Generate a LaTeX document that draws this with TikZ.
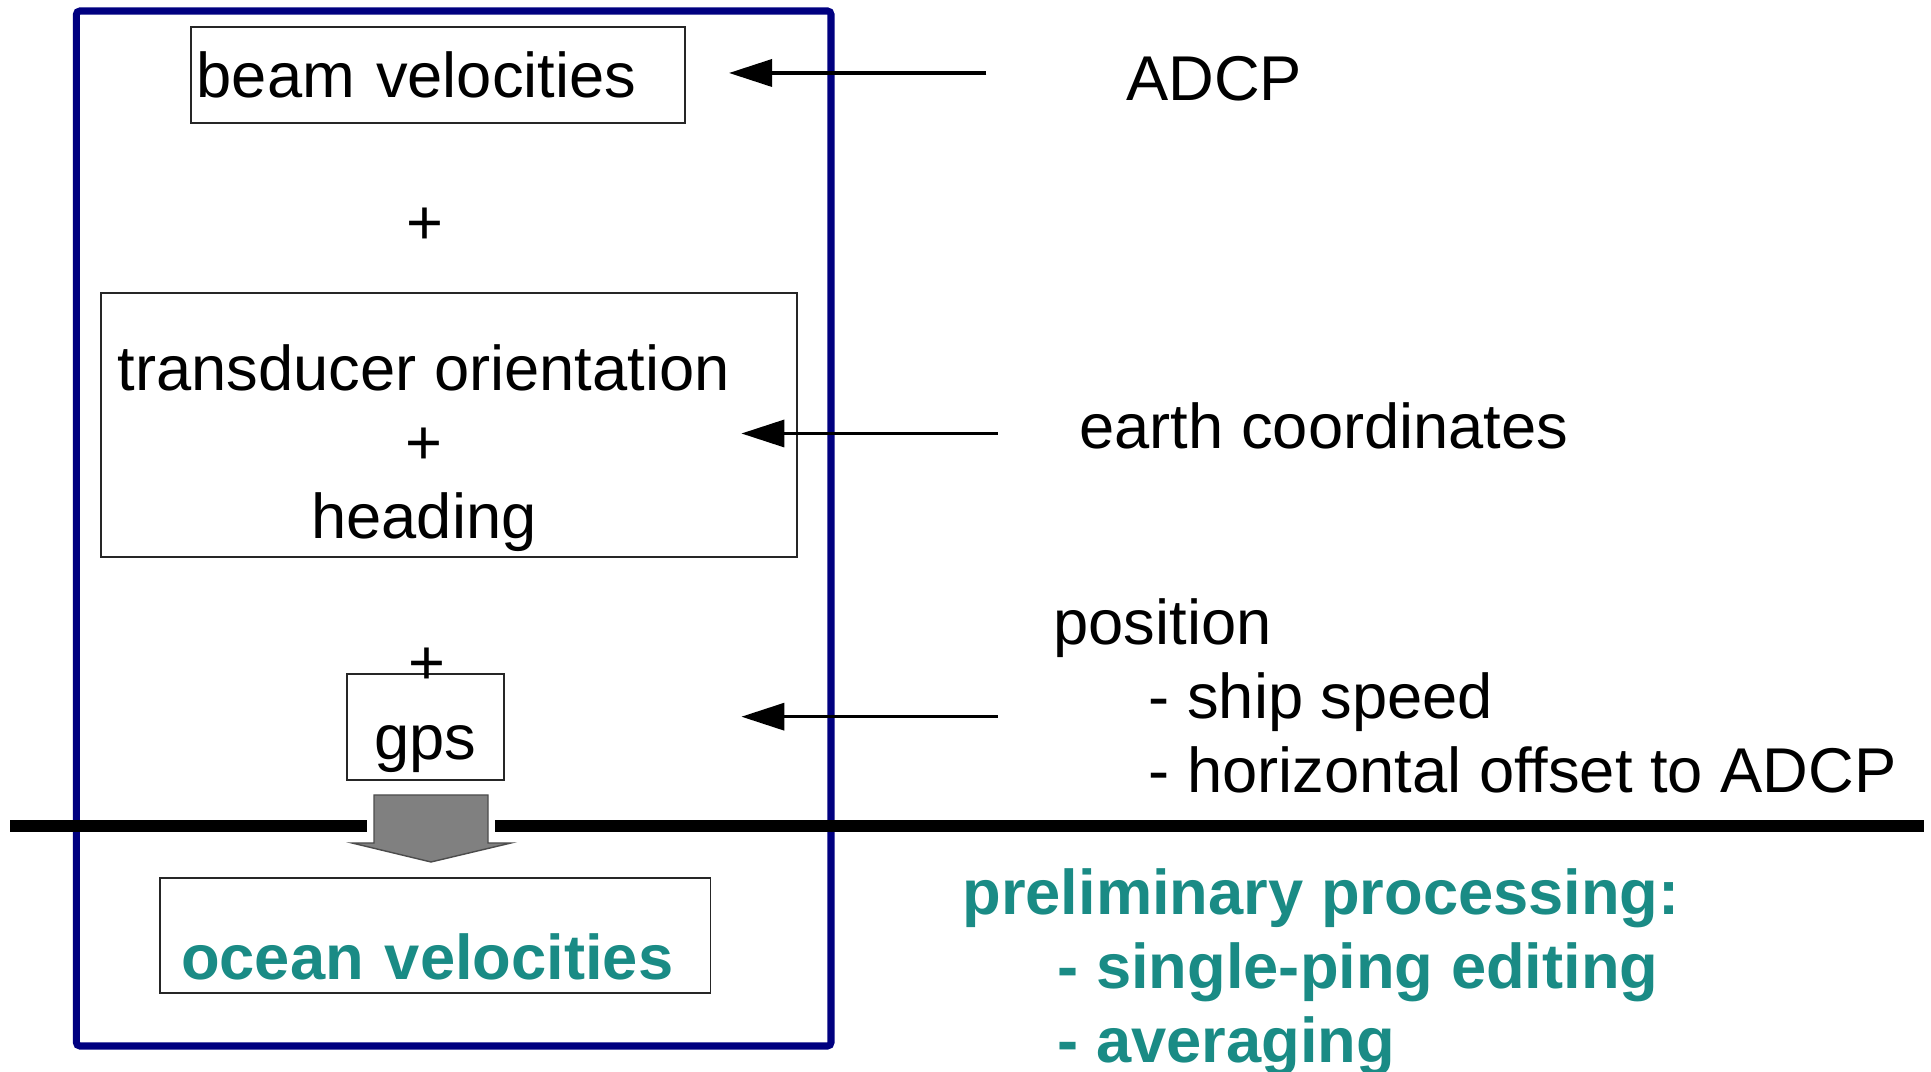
\documentclass[tikz,border=0pt]{standalone}
\usepackage{fontspec}
\setmainfont{Liberation Sans}
\usetikzlibrary{arrows.meta}

\definecolor{framenavy}{RGB}{0,0,128}
\definecolor{procteal}{RGB}{26,139,133}
\newcommand{\diagfont}{\fontsize{18}{21}\selectfont}

\tikzstyle{block} = [rectangle, draw=black!85, line width=0.5pt, inner sep=0.06cm]
\tikzstyle{arrow} = [line width=1pt, -{Triangle[length=0.43cm,width=0.27cm]}]
\tikzstyle{note} = [anchor=base west, inner sep=0pt, align=left]
\tikzstyle{plus} = [inner sep=0pt]
\tikzstyle{surface} = [line width=3.3pt]

\begin{document}
\begin{tikzpicture}[font=\diagfont]
    \useasboundingbox (0,0) rectangle (19.31,-10.72);
    % Outer frame
    \node (FR) [rectangle, draw=framenavy, line width=2pt, rounded corners=1pt,
        minimum width=7.546cm, minimum height=10.35cm] at (4.537,-5.285) {};
    % Input blocks
    \node (BV) [block, text width=4.82cm, minimum height=0.96cm] at (4.378,-0.75) {beam velocities};
    \node (P1) [plus] at (4.249,-2.26) {+};
    \node (TO) [block, minimum width=6.958cm, minimum height=2.64cm, text height=0.8cm, text depth=1.48cm]
        at (4.489,-4.25) {\begin{tabular}[t]{@{}c@{}}transducer orientation\\+\\heading\end{tabular}\hspace*{0.5cm}};
    \node (GPS) [block, minimum width=1.57cm, minimum height=1.04cm, text height=0.8cm, text depth=0.14cm]
        at (4.255,-7.27) {gps};
    \node (P2) [plus] at (4.27,-6.66) {+};
    % Sea surface and processing step
    \coordinate (SW) at (0.10,-8.26);
    \coordinate (SL) at (3.67,-8.26);
    \coordinate (SR) at (4.95,-8.26);
    \coordinate (SE) at (19.24,-8.26);
    \draw [surface] (SW) -- (SL);
    \draw [surface] (SR) -- (SE);
    \draw [fill=gray, draw=black!70, line width=0.4pt] (3.74,-7.95) -- (4.88,-7.95) -- (4.88,-8.43)
        -- (5.11,-8.43) -- (4.31,-8.62) -- (3.52,-8.43) -- (3.74,-8.43) -- cycle;
    % Result
    \node (OV) [block, text=procteal, font=\diagfont\bfseries, text width=5.085cm, inner xsep=0.21cm,
        inner ysep=0pt, minimum height=1.15cm, text height=0.874cm, text depth=0cm]
        at (4.353,-9.355) {ocean velocities};
    % Sources
    \node (ADCP) [anchor=west, inner sep=0pt] at (11.256,-0.79) {ADCP};
    \node (EC) [anchor=west, inner sep=0pt] at (10.788,-4.26) {earth coordinates};
    \node (POS) [note] at (10.529,-7.926) {position\\\hspace*{0.95cm}- ship speed\\\hspace*{0.95cm}- horizontal offset to ADCP};
    \node (PP) [note, text=procteal, font=\diagfont\bfseries] at (9.618,-10.626)
        {preliminary processing:\\\hspace*{0.95cm}- single-ping editing\\\hspace*{0.95cm}- averaging};
    % Connections
    \coordinate (A1) at (9.864,-0.73);
    \coordinate (B1) at (7.29,-0.73);
    \coordinate (A2) at (9.975,-4.335);
    \coordinate (B2) at (7.414,-4.335);
    \coordinate (A3) at (9.975,-7.167);
    \coordinate (B3) at (7.414,-7.167);
    \draw [arrow] (A1) -- (B1);
    \draw [arrow] (A2) -- (B2);
    \draw [arrow] (A3) -- (B3);
\end{tikzpicture}
\end{document}
